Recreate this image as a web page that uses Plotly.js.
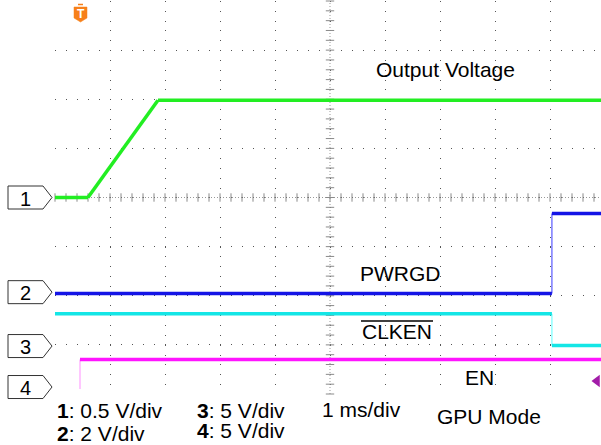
<!DOCTYPE html>
<html>
<head>
<meta charset="utf-8">
<script src="https://cdn.plot.ly/plotly-3.0.1.min.js"></script>
<style>
html,body{margin:0;padding:0;background:#fff;}
#chart{width:601px;height:445px;}
</style>
</head>
<body>
<div id="chart"></div>
<script>
// ---- data (time in ms relative to trigger, values in volts) ----
const ch1Time = [-0.4545, 0.145, 1.418, 9.48];
const ch1Volts = [0, 0, 0.99, 0.99];
const ch2Time = [-0.4545, 8.58, 8.58, 9.48];
const ch2Volts = [-0.05, -0.05, 3.2, 3.2];
const ch3Time = [-0.4545, 8.58, 8.58, 9.48];
const ch3Volts = [3.3, 3.3, 0.05, 0.05];
const ch4Time = [0, 0, 9.48];
const ch4Volts = [-0.2, 2.79, 2.79];

const channelNames = ["1", "2", "3", "4"];
const voltsPerDiv = [0.5, 2, 5, 5];
const channelLabels = ["Output Voltage", "PWRGD", "CLKEN", "EN"];
const scaleTexts = ["<b>1</b>: 0.5 V/div", "<b>2</b>: 2 V/div", "<b>3</b>: 5 V/div", "<b>4</b>: 5 V/div"];
const timebaseText = "1 ms/div";
const modeText = "GPU Mode";

// ---- styling / positions ----
const groundDiv = [4.0, 2.073, 0.976, 0.142];
const mainColors = ["#22ee22", "#1414e6", "#14e6e6", "#ff14ff"];
const edgeColors = ["#22ee22", "#7a7aff", "#90ffff", "#ffb4ff"];
const xStart = -0.4545, xEnd = xStart + 546 / 55;
const FONT = "Liberation Sans, Arial, sans-serif";
const FS = 21;

const L = 55, T = 1, W = 546, H = 393;
const pxX = p => (p - L) / W;
const pxY = p => (T + H - p) / H;

const chans = [[ch1Time, ch1Volts], [ch2Time, ch2Volts], [ch3Time, ch3Volts], [ch4Time, ch4Volts]];
const traces = [];

// center graticule ticks
const tickX = [], tickXY = [], tickY = [], tickYX = [];
for (let k = 0; k <= 50; k++) { tickX.push(xStart + k * 0.2); tickXY.push(4); }
for (let k = 0; k <= 40; k++) { tickY.push(k * 0.2); tickYX.push(xStart + 5); }
traces.push({x: tickX, y: tickXY, mode: "markers", type: "scatter", hoverinfo: "skip",
  marker: {symbol: "line-ns-open", size: 6, color: "#8a8a8a", line: {color: "#8a8a8a", width: 1}}, cliponaxis: false});
traces.push({x: tickYX, y: tickY, mode: "markers", type: "scatter", hoverinfo: "skip",
  marker: {symbol: "line-ew-open", size: 6, color: "#8a8a8a", line: {color: "#8a8a8a", width: 1}}, cliponaxis: false});

chans.forEach((c, i) => {
  const [t, v] = c;
  const thickX = [], thickY = [], edgeX = [], edgeY = [];
  for (let k = 0; k < t.length - 1; k++) {
    const y0 = groundDiv[i] + v[k] / voltsPerDiv[i];
    const y1 = groundDiv[i] + v[k + 1] / voltsPerDiv[i];
    if (t[k] === t[k + 1]) {
      edgeX.push(t[k], t[k + 1], null); edgeY.push(y0, y1, null);
    } else {
      thickX.push(t[k], t[k + 1], null); thickY.push(y0, y1, null);
    }
  }
  traces.push({x: edgeX, y: edgeY, mode: "lines", type: "scatter", hoverinfo: "skip",
    line: {color: edgeColors[i], width: 1.5}});
  traces.push({x: thickX, y: thickY, mode: "lines", type: "scatter", hoverinfo: "skip",
    line: {color: mainColors[i], width: 3.5}});
});

// purple ch4 trigger-level arrow at right
traces.push({x: [xStart + (597 - 55) / 55], y: [(394 - 381) / 49.2], mode: "markers", type: "scatter",
  hoverinfo: "skip", cliponaxis: false,
  marker: {symbol: "triangle-left", size: 11, color: "#a21ca8"}});

const shapes = [];
// center crosshair lines
shapes.push({type: "line", xref: "x", yref: "y", x0: xStart, x1: xEnd, y0: 4, y1: 4,
  line: {color: "#999", width: 1, dash: "1px,2px"}, layer: "below"});
shapes.push({type: "line", xref: "x", yref: "y", x0: xStart + 5, x1: xStart + 5, y0: 0, y1: 8,
  line: {color: "#999", width: 1, dash: "1px,2px"}, layer: "below"});

// channel markers
const annotations = [];
groundDiv.forEach((g, i) => {
  const c = T + H - g * 49.125;
  const top = c - 11.5, bot = c + 11.5;
  const path = `M ${pxX(8)},${pxY(top)} L ${pxX(43)},${pxY(top)} L ${pxX(52)},${pxY(c)} L ${pxX(43)},${pxY(bot)} L ${pxX(8)},${pxY(bot)} Z`;
  shapes.push({type: "path", xref: "paper", yref: "paper", path: path,
    fillcolor: "#fff", line: {color: "#333", width: 1}});
  annotations.push({xref: "paper", yref: "paper", x: pxX(25), y: pxY(c + 1), text: channelNames[i],
    showarrow: false, xanchor: "center", yanchor: "middle", font: {family: FONT, size: 20, color: "#000"}});
});

// trigger marker (orange T)
shapes.push({type: "path", xref: "paper", yref: "paper",
  path: `M ${pxX(74)},${pxY(7)} L ${pxX(87)},${pxY(7)} L ${pxX(87)},${pxY(18)} L ${pxX(80.5)},${pxY(22)} L ${pxX(74)},${pxY(18)} Z`,
  fillcolor: "#f7801a", line: {color: "#f7801a", width: 0.5}});
shapes.push({type: "line", xref: "paper", yref: "paper", x0: pxX(78), x1: pxX(83), y0: pxY(4.5), y1: pxY(4.5),
  line: {color: "#f7801a", width: 1.5}});
annotations.push({xref: "paper", yref: "paper", x: pxX(80.5), y: pxY(14), text: "<b>T</b>", showarrow: false,
  xanchor: "center", yanchor: "middle", font: {family: FONT, size: 12, color: "#fff"}});

// channel labels
const labelPos = [[445.5, 70], [400, 273], [397, 331], [479, 377]];
channelLabels.forEach((s, i) => {
  annotations.push({xref: "paper", yref: "paper", x: pxX(labelPos[i][0]), y: pxY(labelPos[i][1]), text: s,
    showarrow: false, xanchor: "center", yanchor: "middle", font: {family: FONT, size: FS, color: "#000"}});
});
// overline for CLKEN
shapes.push({type: "line", xref: "paper", yref: "paper", x0: pxX(361), x1: pxX(433), y0: pxY(321), y1: pxY(321),
  line: {color: "#000", width: 1.5}});

// bottom scale texts
const scalePos = [[55, 411], [55, 433], [195, 411], [195, 431]];
scaleTexts.forEach((s, i) => {
  annotations.push({xref: "paper", yref: "paper", x: pxX(scalePos[i][0]), y: pxY(scalePos[i][1]), text: s,
    showarrow: false, xanchor: "left", yanchor: "middle", font: {family: FONT, size: FS, color: "#000"}});
});
annotations.push({xref: "paper", yref: "paper", x: pxX(320), y: pxY(410), text: timebaseText,
  showarrow: false, xanchor: "left", yanchor: "middle", font: {family: FONT, size: FS, color: "#000"}});
annotations.push({xref: "paper", yref: "paper", x: pxX(435), y: pxY(417), text: modeText,
  showarrow: false, xanchor: "left", yanchor: "middle", font: {family: FONT, size: FS, color: "#000"}});

const layout = {
  width: 601, height: 445,
  margin: {l: L, r: 0, t: T, b: 445 - T - H, pad: 0},
  paper_bgcolor: "#fff", plot_bgcolor: "#fff",
  showlegend: false, hovermode: false,
  xaxis: {range: [xStart, xEnd], tick0: xStart, dtick: 1, showgrid: true, gridcolor: "#555", gridwidth: 1,
    griddash: "1px,8.82px", zeroline: false, showticklabels: false, ticks: "", showline: false, fixedrange: true},
  yaxis: {range: [0, 8], tick0: 0, dtick: 1, showgrid: true, gridcolor: "#555", gridwidth: 1,
    griddash: "1px,10px", zeroline: false, showticklabels: false, ticks: "", showline: false, fixedrange: true},
  shapes: shapes,
  annotations: annotations
};

Plotly.newPlot("chart", traces, layout, {staticPlot: true, displayModeBar: false});
</script>
</body>
</html>
